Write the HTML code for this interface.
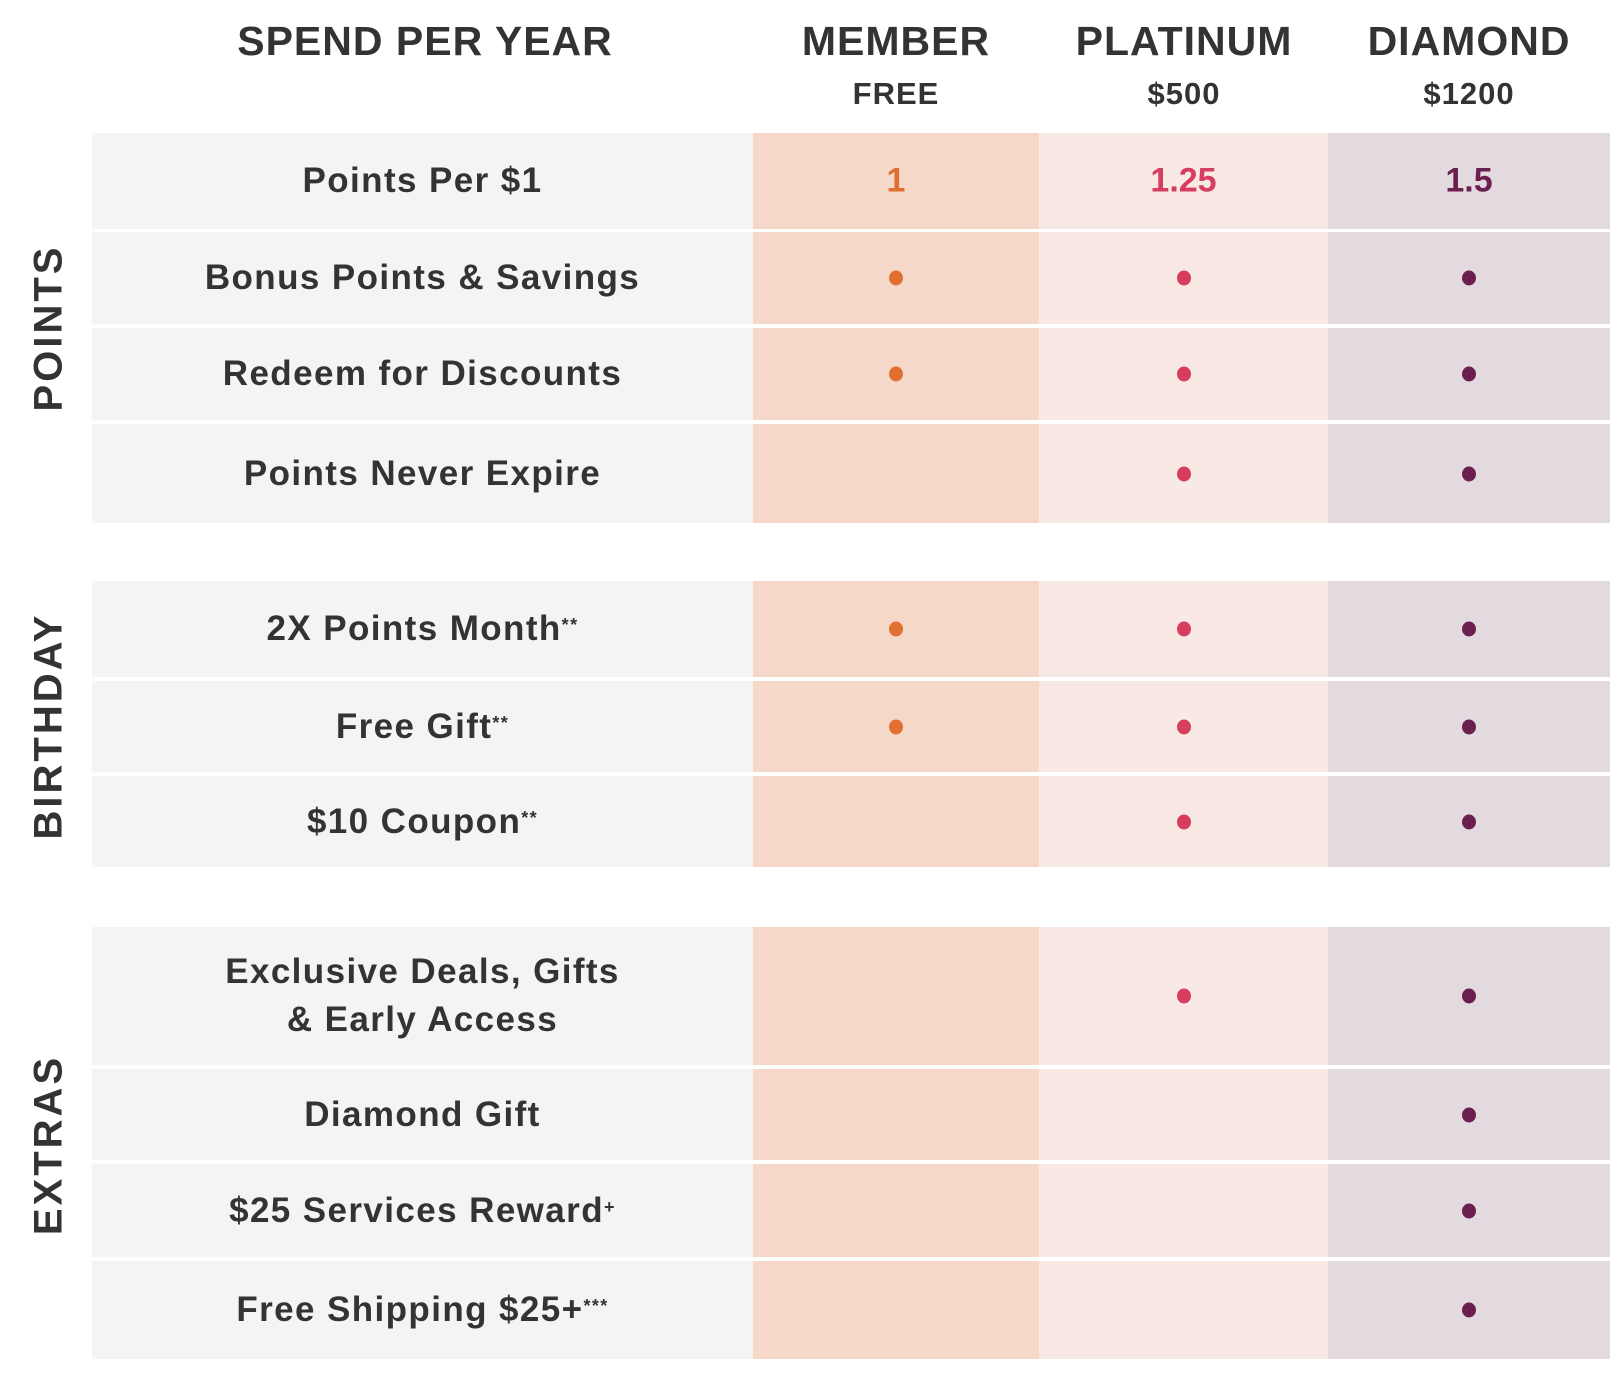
<!DOCTYPE html>
<html><head><meta charset="utf-8"><style>
body{margin:0;width:1624px;height:1376px;background:#fff;position:relative;overflow:hidden;font-family:"Liberation Sans",sans-serif;color:#333;}
.a{position:absolute;}
.h1{font-weight:700;font-size:41px;letter-spacing:1px;text-align:center;transform:translateX(-50%);white-space:nowrap;top:18px;}
.h2{font-weight:700;font-size:31px;letter-spacing:1px;text-align:center;transform:translateX(-50%);white-space:nowrap;top:76px;}
.lbl{display:flex;align-items:center;justify-content:center;text-align:center;font-size:35px;font-weight:700;letter-spacing:1.4px;line-height:48px;}
.lbl sup{font-size:18px;vertical-align:top;position:relative;top:-4px;}
.side{font-weight:700;font-size:40px;letter-spacing:3px;transform:translate(-50%,-50%) rotate(-90deg);white-space:nowrap;}
.dot{width:14px;height:15px;border-radius:50%;transform:translate(-50%,-50%);}
.val{font-size:34px;font-weight:700;transform:translate(-50%,-50%);}
</style></head><body>
<div class="a h1" style="left:425px">SPEND PER YEAR</div>
<div class="a h1" style="left:896px">MEMBER</div>
<div class="a h1" style="left:1184px">PLATINUM</div>
<div class="a h1" style="left:1469px">DIAMOND</div>
<div class="a h2" style="left:896px">FREE</div>
<div class="a h2" style="left:1184px">$500</div>
<div class="a h2" style="left:1469px">$1200</div>
<div id="t"></div>
<script>
const labels=["Points Per $1","Bonus Points &amp; Savings","Redeem for Discounts","Points Never Expire","2X Points Month<sup>**</sup>","Free Gift<sup>**</sup>","$10 Coupon<sup>**</sup>","Exclusive Deals, Gifts<br>&amp; Early Access","Diamond Gift","$25 Services Reward<sup>+</sup>","Free Shipping $25+<sup>***</sup>"];
const member=["1",1,1,0,1,1,0,0,0,0,0];
const platinum=["1.25",1,1,1,1,1,1,1,0,0,0];
const diamond=["1.5",1,1,1,1,1,1,1,1,1,1];
const rowTop=[133,232,328,424,581,681,776,927,1069,1164,1261];
const rowBot=[229,324,420,523,677,772,867,1065,1160,1257,1359];
const groups=[["POINTS",328],["BIRTHDAY",726],["EXTRAS",1145]];
const cols=[{x0:753,x1:1039,bg:"#f6d8c8",c:"#e07030",d:member,n:"member"},{x0:1039,x1:1328,bg:"#f9e9e5",c:"#d63d5e",d:platinum,n:"platinum"},{x0:1328,x1:1610,bg:"#e3dadf",c:"#6b1f4f",d:diamond,n:"diamond"}];
const t=document.getElementById('t');
function mk(cls,st,html){const e=document.createElement('div');e.className='a '+cls;e.style.cssText=st;if(html)e.innerHTML=html;t.appendChild(e);return e;}
labels.forEach((l,i)=>{
 const y0=rowTop[i],h=rowBot[i]-rowTop[i],cy=y0+h/2;
 const e=mk('lbl',`left:92px;top:${y0}px;width:661px;height:${h}px;background:#f4f4f4;`,l);
 
 
 cols.forEach(c=>{
  const b=mk('',`left:${c.x0}px;top:${y0}px;width:${c.x1-c.x0}px;height:${h}px;background:${c.bg};`);
  
  
  const v=c.d[i];const cx=(c.x0+c.x1)/2;
  if(typeof v==='string'){const s=mk('val',`left:${cx}px;top:${cy}px;color:${c.c};`,v);
   
   }
  else if(v){const d=mk('dot',`left:${cx}px;top:${cy}px;background:${c.c};`);
   
   }
 });
});
groups.forEach(g=>{const s=mk('side',`left:49px;top:${g[1]}px;`,g[0]);
 
 });
</script>
</body></html>
